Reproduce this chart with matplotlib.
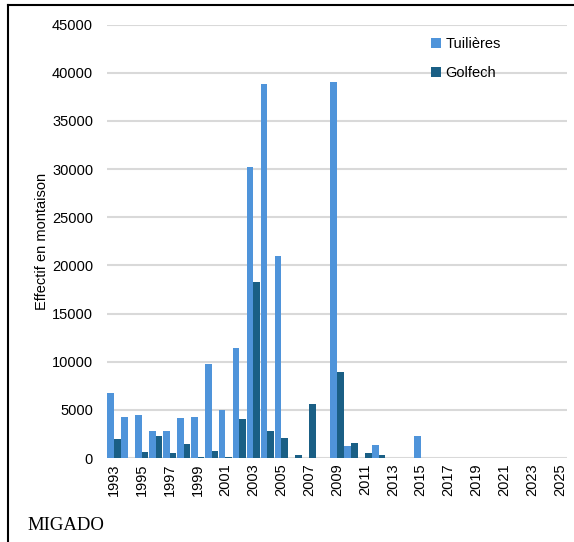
import matplotlib
matplotlib.use("Agg")
import matplotlib.pyplot as plt
import numpy as np
from matplotlib.lines import Line2D

years = list(range(1993, 2026))
tuilieres = [6700, 4300, 4500, 2800, 2800, 4150, 4300, 9800, 5000, 11400,
             30200, 38800, 21000, 0, 0, 0, 39000, 1200, 0, 1350,
             0, 0, 2300, 0, 0, 0, 0, 0, 0, 0, 0, 0, 0]
golfech = [1950, 0, 620, 2250, 550, 1500, 100, 730, 100, 4100,
           18300, 2800, 2050, 300, 5600, 0, 8900, 1600, 500, 300,
           0, 0, 0, 0, 0, 0, 0, 0, 0, 0, 0, 0, 0]
series_names = ["Tuilières", "Golfech"]
colors = ["#4F94DA", "#1A5F85"]
ylabel = "Effectif en montaison"
source = "MIGADO"

plt.rcParams['font.family'] = ['Liberation Sans', 'DejaVu Sans']

W, H = 574, 542
fig = plt.figure(figsize=(W / 100, H / 100), dpi=100)
ax = fig.add_axes([107 / W, 1 - 458 / H, (567 - 107) / W, (458 - 24.6) / H])

x = np.arange(len(years))
w = 0.475
ax.bar(x - w / 2, tuilieres, width=w, color=colors[0], label=series_names[0], zorder=3)
ax.bar(x + w / 2, golfech, width=w, color=colors[1], label=series_names[1], zorder=3)

ax.set_xlim(-0.5, len(years) - 0.5)
ax.set_ylim(0, 45000)
ax.set_yticks(range(0, 45001, 5000))
ax.yaxis.grid(True, color="#D9D9D9", linewidth=1.5, zorder=0)
ax.set_axisbelow(True)
ax.set_xticks(x[::2])
ax.set_xticklabels([str(y) for y in years[::2]], rotation=90, fontsize=10.5)
ax.tick_params(axis='y', labelsize=10.5, length=0, pad=10)
ax.tick_params(axis='x', length=0, pad=4)
for s in ax.spines.values():
    s.set_visible(False)
ax.set_ylabel(ylabel, fontsize=10.5, labelpad=2)

leg = ax.legend(loc="upper left", bbox_to_anchor=(418 / W, 1 - 24 / H),
                bbox_transform=fig.transFigure, frameon=False, fontsize=10.5,
                handlelength=0.7, handleheight=0.7, handletextpad=0.3,
                labelspacing=1.05)

fig.text(27 / W, 1 - 525 / H, source, fontsize=13.5, family="Liberation Serif",
         va="center", ha="left")

# frame lines left and top
fig.add_artist(Line2D([8 / W, 8 / W], [0, 1 - 5 / H], transform=fig.transFigure,
                      color="black", linewidth=1.5))
fig.add_artist(Line2D([8 / W, 1], [1 - 5 / H, 1 - 5 / H], transform=fig.transFigure,
                      color="black", linewidth=1.5))

fig.savefig("out.png", dpi=100)
